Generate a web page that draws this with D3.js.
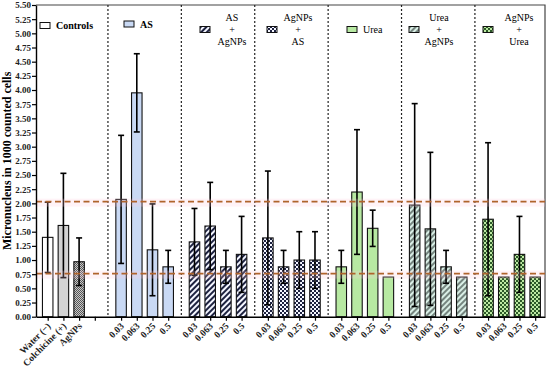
<!DOCTYPE html>
<html>
<head>
<meta charset="utf-8">
<script src="https://cdn.jsdelivr.net/npm/d3@7"></script>
<style>
  body { margin: 0; background: #fff; }
  svg text { font-family: "Liberation Serif", "DejaVu Serif", serif; }
</style>
</head>
<body>
<div class="graphics"></div>
<script>
// data
var groupNames = ["Controls", "AS", "AS\n+\nAgNPs", "AgNPs\n+\nAS", "Urea", "Urea\n+\nAgNPs", "AgNPs\n+\nUrea"];
var controlLabels = ["Water (\u2212)", "Colchicine (+)", "AgNPs"];
var doseLabels = ["0.03", "0.063", "0.25", "0.5"];

var controlMeans = [1.40, 1.61, 0.97];
var controlErr   = [0.62, 0.92, 0.42];

var asMeans     = [2.07, 3.95, 1.18, 0.88];
var asErr       = [1.13, 0.69, 0.81, 0.29];
var asAgMeans   = [1.32, 1.60, 0.88, 1.10];
var asAgErr     = [0.59, 0.77, 0.29, 0.67];
var agAsMeans   = [1.39, 0.88, 1.00, 1.00];
var agAsErr     = [1.18, 0.29, 0.50, 0.50];
var ureaMeans   = [0.88, 2.20, 1.56, 0.70];
var ureaErr     = [0.29, 1.10, 0.32, 0];
var urAgMeans   = [1.97, 1.55, 0.88, 0.70];
var urAgErr     = [1.79, 1.35, 0.29, 0];
var agUrMeans   = [1.72, 0.70, 1.10, 0.70];
var agUrErr     = [1.35, 0, 0.67, 0];

var refLines = [2.03, 0.76];
var yTicks = d3.range(0, 5.51, 0.25);

var w = 550, h = 368;
var plotL = 36, plotR = 545, plotT = 5, plotB = 316.7;
var groupStep = 4.674;   // slots per group incl. gap
var barW = 10.5;

var svg = d3.select('.graphics')
    .append('svg')
    .attr("width", w)
    .attr("height", h);

var defs = svg.append("defs");

function checker(id, bg, fg, size) {
    var p = defs.append("pattern").attr("id", id)
        .attr("patternUnits", "userSpaceOnUse")
        .attr("width", size * 2).attr("height", size * 2);
    p.append("rect").attr("width", size * 2).attr("height", size * 2).attr("fill", bg);
    p.append("rect").attr("width", size).attr("height", size).attr("fill", fg);
    p.append("rect").attr("x", size).attr("y", size).attr("width", size).attr("height", size).attr("fill", fg);
}
function stripes(id, bg, fg) {
    var p = defs.append("pattern").attr("id", id)
        .attr("patternUnits", "userSpaceOnUse")
        .attr("width", 4).attr("height", 4)
        .attr("patternTransform", "rotate(45)");
    p.append("rect").attr("width", 4).attr("height", 4).attr("fill", bg);
    p.append("rect").attr("width", 2).attr("height", 4).attr("fill", fg);
}
checker("pAg", "#c8c8c8", "#555", 1);
stripes("pAsAg", "#f4f6ff", "#1d2240");
checker("pAgAs", "#f4f6ff", "#1d2240", 2);
stripes("pUrAg", "#d9efe6", "#75857f");
checker("pAgUr", "#bde9a3", "#2c5a28", 2);

var groupFills = [null, "#c9d9f4", "url(#pAsAg)", "url(#pAgAs)", "#b7e9a2", "url(#pUrAg)", "url(#pAgUr)"];
var controlFills = ["#ffffff", "#d3d3d3", "url(#pAg)"];

// build bar table
var bars = [];
controlMeans.forEach(function(m, i){
    bars.push({label: controlLabels[i], pos: i, mean: m, err: controlErr[i], fill: controlFills[i]});
});
var series = [asMeans, asAgMeans, agAsMeans, ureaMeans, urAgMeans, agUrMeans];
var seriesErr = [asErr, asAgErr, agAsErr, ureaErr, urAgErr, agUrErr];
series.forEach(function(s, g){
    s.forEach(function(m, i){
        bars.push({label: doseLabels[i], pos: (g + 1) * groupStep + i, mean: m, err: seriesErr[g][i], fill: groupFills[g + 1]});
    });
});

var x = d3.scaleLinear().domain([-0.745, 31.67]).range([plotL, plotR]);
var y = d3.scaleLinear().domain([0, 5.5]).range([plotB, plotT]);

// frame
svg.append("path")
    .attr("d", "M" + plotL + "," + plotT + "H" + plotR + "V" + plotB)
    .attr("fill", "none").attr("stroke", "#444").attr("stroke-width", 1.2);

// group separators
d3.range(6).forEach(function(g){
    var sx = x(g * groupStep + (3 + groupStep) / 2);
    svg.append("line")
        .attr("x1", sx).attr("x2", sx).attr("y1", plotT).attr("y2", plotB)
        .attr("stroke", "#222").attr("stroke-width", 1.2)
        .attr("stroke-dasharray", "2,2");
});

// bars
svg.selectAll('rect.bar')
    .data(bars)
    .enter()
    .append('rect')
    .attr('class', 'bar')
    .attr("x", function(d){ return x(d.pos) - barW / 2; })
    .attr("y", function(d){ return y(d.mean); })
    .attr("width", barW)
    .attr("height", function(d){ return y(0) - y(d.mean); })
    .attr("fill", function(d){ return d.fill; })
    .attr("stroke", "#111")
    .attr("stroke-width", 1.1);

// error bars
var eb = svg.selectAll('g.err')
    .data(bars.filter(function(d){ return d.err > 0; }))
    .enter().append("g").attr("class", "err")
    .attr("stroke", "#000").attr("stroke-width", 1.6);
eb.append("line")
    .attr("x1", function(d){ return x(d.pos); })
    .attr("x2", function(d){ return x(d.pos); })
    .attr("y1", function(d){ return y(d.mean - d.err); })
    .attr("y2", function(d){ return y(d.mean + d.err); });
eb.append("line")
    .attr("x1", function(d){ return x(d.pos) - 3; })
    .attr("x2", function(d){ return x(d.pos) + 3; })
    .attr("y1", function(d){ return y(d.mean + d.err); })
    .attr("y2", function(d){ return y(d.mean + d.err); });
eb.append("line")
    .attr("x1", function(d){ return x(d.pos) - 3; })
    .attr("x2", function(d){ return x(d.pos) + 3; })
    .attr("y1", function(d){ return y(d.mean - d.err); })
    .attr("y2", function(d){ return y(d.mean - d.err); });

// reference lines
refLines.forEach(function(v){
    svg.append("rect")
        .attr("x", plotL).attr("width", plotR - plotL)
        .attr("y", y(v) - 3).attr("height", 8)
        .attr("fill", "#ffc8dc").attr("opacity", 0.22);
    svg.append("line")
        .attr("x1", plotL).attr("x2", plotR)
        .attr("y1", y(v)).attr("y2", y(v))
        .attr("stroke", "#b0642c").attr("stroke-width", 1.8)
        .attr("stroke-dasharray", "6,3.5");
});

// y axis
var yAxis = svg.append("g")
    .attr("transform", "translate(" + plotL + ",0)")
    .call(d3.axisLeft(y).tickValues(yTicks).tickFormat(d3.format(".2f")).tickSize(4).tickSizeOuter(0));
yAxis.select(".domain").attr("stroke", "#000").attr("stroke-width", 1.4);
yAxis.selectAll(".tick line").attr("stroke-width", 1.2);
yAxis.selectAll("text")
    .attr("x", -5)
    .style("font-size", "9px").style("font-weight", "bold").attr("fill", "#222");

// x axis
var tickPos = [0, 1, 2, 3];
d3.range(1, 7).forEach(function(g){
    d3.range(4).forEach(function(i){ tickPos.push(g * groupStep + i); });
});
var labelOf = {};
bars.forEach(function(d){ labelOf[d.pos] = d.label; });
var xAxis = svg.append("g")
    .attr("transform", "translate(0," + plotB + ")")
    .call(d3.axisBottom(x).tickValues(tickPos)
        .tickFormat(function(d){ return labelOf[d] || ""; })
        .tickSize(4).tickSizeOuter(0));
xAxis.select(".domain").attr("stroke", "#000").attr("stroke-width", 1.4);
xAxis.selectAll(".tick line").attr("stroke-width", 1.2);
xAxis.selectAll("text")
    .attr("y", 0).attr("x", 0).attr("dy", 0)
    .attr("text-anchor", "end")
    .attr("transform", "translate(3,10) rotate(-45)")
    .style("font-size", "9.5px").style("font-weight", "bold").attr("fill", "#222");

// y label
svg.append("text")
    .attr("transform", "translate(11," + ((plotT + plotB) / 2) + ") rotate(-90)")
    .attr("text-anchor", "middle")
    .style("font-size", "12px").style("font-weight", "bold")
    .text("Micronucleus in 1000 counted cells");

// legends
var legSwatchX = [40, 124, 200, 267, 347, 409, 483];
var legY = [25.5, 24, 29.5, 29.5, 29.5, 29.5, 29.5];
var legTextX = [null, null, 232, 298, null, 439, 519];
var legFills = ["#ffffff"].concat(groupFills.slice(1));
groupNames.forEach(function(name, g){
    svg.append("rect")
        .attr("x", legSwatchX[g]).attr("y", legY[g] - 3)
        .attr("width", 10).attr("height", 6)
        .attr("fill", legFills[g]).attr("stroke", "#111").attr("stroke-width", 1);
    var lines = name.split("\n");
    if (lines.length == 1) {
        svg.append("text")
            .attr("x", legSwatchX[g] + 16).attr("y", legY[g] + 3.5)
            .style("font-size", "10px").style("font-weight", g < 2 ? "bold" : "normal")
            .text(name);
    } else {
        lines.forEach(function(l, k){
            svg.append("text")
                .attr("x", legTextX[g]).attr("y", legY[g] - 12 + k * 12 + 3.5)
                .attr("text-anchor", "middle")
                .style("font-size", "10px")
                .text(l);
        });
    }
});
</script>
</body>
</html>
